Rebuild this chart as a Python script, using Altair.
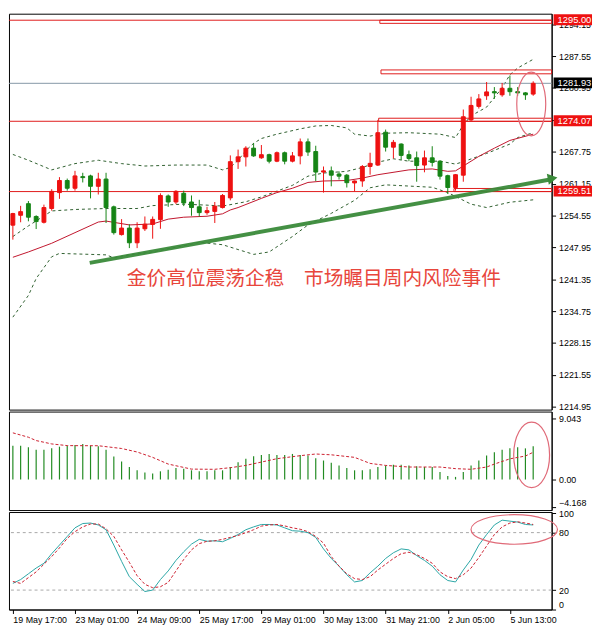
import json
import altair as alt
import pandas as pd

# ---------------- data ----------------
bar_open = [1252.55, 1254.6, 1257.0, 1254.35, 1253.15, 1256.0, 1259.3, 1261.8, 1260.2, 1262.6,
            1262.75, 1260.6, 1262.1, 1256.35, 1250.6, 1251.95, 1248.9, 1251.8, 1252.7, 1253.7,
            1258.6, 1257.35, 1259.15, 1257.35, 1256.35, 1255.15, 1255.4, 1256.2, 1258.2, 1265.7,
            1266.7, 1268.5, 1266.5, 1267.15, 1265.8, 1267.55, 1265.8, 1266.9, 1269.8, 1267.8,
            1263.55, 1263.8, 1263.15, 1262.9, 1261.3, 1261.7, 1264.7, 1265.0, 1271.8, 1268.7,
            1269.35, 1267.15, 1266.5, 1265.0, 1266.5, 1265.8, 1262.8, 1260.35, 1262.9, 1274.35,
            1277.15, 1279.35, 1280.2, 1279.55, 1280.9, 1280.2, 1279.95, 1279.7]
bar_high = [1255.1, 1256.55, 1257.55, 1254.6, 1256.8, 1260.0, 1262.5, 1262.2, 1263.8, 1263.4,
            1263.0, 1263.4, 1263.4, 1256.6, 1253.8, 1252.75, 1253.15, 1254.35, 1254.35, 1259.15,
            1258.9, 1259.8, 1259.7, 1258.7, 1257.8, 1256.35, 1257.35, 1259.0, 1267.0, 1268.2,
            1268.9, 1269.55, 1269.15, 1267.35, 1267.8, 1267.8, 1267.7, 1270.5, 1270.5, 1269.0,
            1264.7, 1264.7, 1263.7, 1263.15, 1261.8, 1265.0, 1267.55, 1274.35, 1272.35, 1270.2,
            1269.5, 1268.0, 1267.8, 1268.0, 1268.9, 1266.0, 1263.0, 1263.15, 1276.5, 1279.15,
            1279.7, 1282.2, 1281.15, 1282.0, 1283.55, 1281.15, 1280.1, 1282.35]
bar_low = [1249.55, 1253.15, 1253.35, 1251.75, 1252.9, 1255.55, 1258.0, 1259.7, 1259.7, 1261.4,
           1258.1, 1258.9, 1253.0, 1250.6, 1250.4, 1247.8, 1247.8, 1251.35, 1249.75, 1251.8,
           1256.35, 1256.9, 1256.5, 1254.5, 1254.35, 1254.7, 1253.0, 1256.0, 1257.7, 1264.2,
           1264.7, 1266.7, 1266.3, 1265.35, 1265.6, 1265.15, 1265.55, 1265.15, 1266.9, 1261.7,
           1259.3, 1260.6, 1262.0, 1260.35, 1259.55, 1260.5, 1263.0, 1264.8, 1267.8, 1266.35,
           1266.0, 1265.8, 1261.55, 1263.5, 1264.7, 1262.0, 1259.0, 1259.7, 1261.55, 1274.1,
           1276.7, 1278.5, 1278.7, 1279.15, 1279.35, 1279.35, 1278.5, 1279.35]
bar_close = [1254.95, 1255.35, 1254.2, 1253.3, 1256.2, 1259.55, 1261.8, 1260.2, 1262.75, 1262.4,
             1260.6, 1262.1, 1256.2, 1251.0, 1251.95, 1248.9, 1251.95, 1252.75, 1253.75, 1258.7,
             1257.35, 1259.55, 1257.15, 1256.2, 1255.15, 1255.55, 1256.5, 1258.7, 1265.7, 1266.7,
             1268.5, 1266.9, 1267.15, 1265.8, 1267.55, 1265.8, 1266.9, 1269.8, 1267.7, 1263.55,
             1263.8, 1262.9, 1262.7, 1261.35, 1261.7, 1264.7, 1265.35, 1271.7, 1268.7, 1269.7,
             1267.0, 1266.35, 1264.9, 1266.5, 1265.55, 1262.7, 1260.35, 1263.0, 1275.0, 1277.35,
             1278.7, 1280.15, 1279.95, 1280.9, 1280.2, 1279.95, 1279.55, 1281.93]

x_tick_bars = [0, 8, 16, 24, 32, 40, 48, 56, 64]
x_tick_labels = ["19 May 17:00", "23 May 01:00", "24 May 09:00", "25 May 17:00", "29 May 01:00",
                 "30 May 13:00", "31 May 21:00", "2 Jun 05:00", "5 Jun 13:00"]
price_ticks = [1294.15, 1287.55, 1280.95, 1274.35, 1267.75, 1261.15, 1254.55, 1247.95,
               1241.35, 1234.75, 1228.15, 1221.55, 1214.95]

bb_up_idx = [0, 2, 5, 8, 11, 14, 17, 21, 25, 27, 28, 29, 30, 31, 32, 34, 37, 39, 41, 43, 44, 46,
             48, 51, 55, 57, 58, 59, 61, 63, 64, 65, 67]
bb_up_val = [1267.2, 1266.0, 1264.0, 1265.3, 1266.0, 1265.3, 1264.8, 1265.0, 1265.0, 1264.0, 1264.5,
             1266.0, 1268.0, 1269.5, 1270.5, 1271.4, 1272.5, 1273.1, 1273.2, 1272.7, 1271.4, 1271.0,
             1271.6, 1271.7, 1271.4, 1270.7, 1273.3, 1275.2, 1277.0, 1281.0, 1283.7, 1285.1, 1286.9]
bb_mid_idx = [0, 2, 5, 8, 12, 16, 18, 22, 25, 27, 29, 30, 32, 34, 36, 38, 40, 43, 45, 47, 49, 51,
              55, 57, 58, 61, 64, 65, 67]
bb_mid_val = [1250.2, 1252.4, 1255.5, 1255.8, 1256.0, 1256.0, 1256.6, 1256.9, 1256.7, 1256.5, 1257.1,
              1257.4, 1258.4, 1259.6, 1260.8, 1262.7, 1263.35, 1263.7, 1264.5, 1265.6, 1266.3, 1265.8,
              1265.8, 1265.2, 1265.7, 1267.4, 1269.35, 1270.7, 1271.7]
bb_low_idx = [0, 2, 3, 5, 6, 12, 13, 15, 18, 22, 24, 27, 29, 31, 33, 36, 38, 41, 44, 46, 48, 54,
              56, 59, 61, 64, 67]
bb_low_val = [1233.5, 1238.0, 1241.5, 1246.0, 1246.7, 1246.4, 1245.8, 1246.4, 1247.0, 1248.3, 1249.0,
              1248.5, 1247.5, 1246.5, 1247.0, 1250.2, 1252.6, 1255.0, 1257.7, 1260.3, 1260.9, 1260.4,
              1259.3, 1256.9, 1256.2, 1257.3, 1257.8]
ma_idx = [0, 2, 4, 5, 8, 11, 12, 15, 18, 20, 22, 25, 27, 28, 29, 32, 34, 36, 38, 40, 43, 45, 47,
          51, 54, 56, 57, 58, 60, 62, 64, 67]
ma_val = [1245.9, 1247.0, 1248.2, 1248.8, 1251.0, 1253.2, 1253.4, 1252.6, 1252.8, 1253.8, 1254.2,
          1254.4, 1254.9, 1255.7, 1256.2, 1258.1, 1259.3, 1260.2, 1261.4, 1261.7, 1261.8, 1262.3,
          1263.0, 1264.0, 1264.2, 1263.7, 1263.8, 1264.8, 1266.8, 1268.5, 1270.1, 1271.4]

level_red = [1295.00, 1274.07, 1259.51]
level_last = [1281.93]
zone_start = [47.25, 47.4, 47.1, 56.8]
zone_end = [69.375, 69.375, 69.375, 69.375]
zone_top = [1295.0, 1284.7, 1274.7, 1260.15]
zone_bottom = [1294.35, 1283.9, 1274.05, 1259.51]
trend_x = [9.9, 69.0]
trend_y = [1244.75, 1261.95]
arrow_head_x = [69.5]
arrow_head_y = [1262.25]

box_price = [1295.00, 1281.93, 1274.07, 1259.51]
box_text = ["1295.00", "1281.93", "1274.07", "1259.51"]
box_kind = ["red", "last", "red", "red"]

title_text = ["金价高位震荡企稳\u3000市场瞩目周内风险事件"]
title_x = [38.75]
title_y = [1241.35]

macd_hist = [5.03, 5.03, 4.79, 4.45, 4.45, 4.64, 4.89, 5.03, 5.13, 5.28,
             5.03, 4.94, 4.45, 3.42, 2.69, 1.86, 1.37, 1.03, 0.88, 1.22,
             1.47, 1.71, 1.61, 1.37, 1.22, 1.22, 1.37, 1.37, 1.86, 2.59,
             3.08, 3.47, 3.67, 3.81, 3.67, 3.67, 3.81, 3.67, 3.57, 3.18,
             2.83, 2.49, 2.10, 1.71, 1.37, 1.37, 1.52, 1.86, 2.10, 2.20,
             2.20, 2.10, 1.96, 1.86, 1.86, 1.12, 0.54, 0.39, 1.12, 2.10,
             2.83, 3.57, 4.06, 4.45, 4.64, 4.79, 4.64, 4.94]
macd_sig_idx = [0, 2, 3, 5, 7, 11, 14, 16, 18, 20, 22, 23, 26, 28, 30, 32, 34, 37, 39, 41, 44, 45,
                46, 48, 51, 55, 57, 59, 61, 62, 64, 66, 67]
macd_sig_val = [6.95, 6.3, 5.8, 5.3, 5.05, 5.03, 4.62, 4.1, 3.3, 2.3, 1.8, 1.55, 1.52, 1.76, 2.1,
                2.6, 3.1, 3.55, 3.8, 3.68, 3.3, 2.85, 2.4, 2.1, 1.86, 1.86, 1.62, 1.52, 1.86, 2.3,
                3.08, 3.5, 4.06]
macd_ticks = [9.043, 0.0, -4.168]

stoch_k = [27, 31, 37, 43, 48, 58, 67, 76, 85, 89.5, 90, 88, 83, 67, 50, 34, 26, 18.5, 20, 31,
           40, 51, 60, 68, 73, 71, 71.5, 70.5, 74, 78, 83, 86, 88.5, 88.5, 88, 85, 82, 81.5, 80, 75,
           63, 53, 45, 36, 28.5, 30, 38, 45, 53, 59, 63, 62, 56, 51, 45, 36, 30, 28.5, 41, 52,
           67, 78, 88, 93, 92, 91, 88.5, 88]
stoch_d = [29, 27, 33, 39, 47, 55, 64, 74, 81, 86, 89, 89, 84, 76, 62, 49, 35, 26, 22.5, 23.5,
           28, 40, 52, 62, 68.5, 71, 71.4, 73, 75, 77, 80, 83, 86.8, 88, 88.5, 87, 85, 83.5, 81, 76,
           69, 55, 45, 37, 32, 31, 34, 41, 47, 53, 58, 59.5, 57, 53, 48, 39, 34, 32, 36, 43,
           54, 66, 78, 86, 90, 91.3, 90, 88.5]
stoch_levels = [80, 20]
stoch_ticks = [100, 80, 20, 0]

ell_main_x, ell_main_y = [66.75], [1277.65]
ell_macd_x, ell_macd_y = [66.8], [3.67]
ell_stoch_x, ell_stoch_y = [64.56], [83.3]

# ---------------- styles ----------------
W = 551
RED_C, GREEN_C = "#ee1111", "#158415"
BAND, MA_RED = "#2f5f2f", "#c0142c"
LEVEL, LAST = "#e01a1a", "#8597a6"
TREND = "#3a8a3a"
ELL = "#e06a78"
FONT = "Liberation Sans"


def ellipse_path(a, b):
    k = 0.5523
    return (f"M0,{-b}C{k*a:.4f},{-b} {a},{-k*b:.4f} {a},0"
            f"C{a},{k*b:.4f} {k*a:.4f},{b} 0,{b}"
            f"C{-k*a:.4f},{b} {-a},{k*b:.4f} {-a},0"
            f"C{-a},{-k*b:.4f} {-k*a:.4f},{-b} 0,{-b}Z")


xs = alt.Scale(domain=[-0.5, 69.375], nice=False, zero=False)
ys_main = alt.Scale(domain=[1214.35, 1296.35], nice=False, zero=False)
ys_macd = alt.Scale(domain=[-4.55, 10.12], nice=False, zero=False)
ys_sto = alt.Scale(domain=[-0.3, 101.5], nice=False, zero=False)

main_axis = alt.Axis(orient="right", values=price_ticks, format=".2f", tickSize=4, labelPadding=3,
                     grid=False, title=None, domainColor="black", tickColor="black")
macd_axis = alt.Axis(orient="right", values=macd_ticks, tickSize=4, labelPadding=3, grid=False,
                     title=None, labelExpr="datum.value == 0 ? '0.00' : format(datum.value, '.3f')",
                     labelBaseline={"condition": {"test": "datum.value < 0", "value": "bottom"},
                                    "value": "middle"},
                     domainColor="black", tickColor="black")
sto_axis = alt.Axis(orient="right", values=stoch_ticks, tickSize=4, labelPadding=3, grid=False,
                    title=None, labelFlush=True, domainColor="black", tickColor="black")
x_axis = alt.Axis(values=x_tick_bars, labelExpr=f"{json.dumps(x_tick_labels)}[round(datum.value/8)]",
                  labelAlign="left", tickSize=4, labelPadding=2, grid=False, title=None,
                  domainColor="black", tickColor="black", labelOverlap=False)


def X(f, axis=None):
    return alt.X(f, type="quantitative", scale=xs, axis=axis)


def YM(f):
    return alt.Y(f, type="quantitative", scale=ys_main, axis=main_axis)


# ---------------- main panel ----------------
candles = pd.DataFrame({"i": list(range(len(bar_open))), "o": bar_open, "h": bar_high,
                        "l": bar_low, "c": bar_close})
candles["dir"] = ["up" if c >= o else "down" for o, c in zip(bar_open, bar_close)]
dir_scale = alt.Scale(domain=["up", "down"], range=[RED_C, GREEN_C])

bands = pd.concat([
    pd.DataFrame({"i": bb_up_idx, "v": bb_up_val, "s": "up"}),
    pd.DataFrame({"i": bb_mid_idx, "v": bb_mid_val, "s": "mid"}),
    pd.DataFrame({"i": bb_low_idx, "v": bb_low_val, "s": "low"}),
])
ma = pd.DataFrame({"i": ma_idx, "v": ma_val})
zones = pd.DataFrame({"x0": zone_start, "x1": zone_end, "t": zone_top, "b": zone_bottom})
trend = pd.DataFrame({"x0": [trend_x[0]], "x1": [trend_x[1]], "y0": [trend_y[0]], "y1": [trend_y[1]]})
head = pd.DataFrame({"x": arrow_head_x, "y": arrow_head_y})
boxes = pd.DataFrame({"p": box_price, "t": box_text, "k": box_kind})
title_df = pd.DataFrame({"x": title_x, "y": title_y, "t": title_text})

band_layer = alt.Chart(bands).mark_line(color=BAND, strokeWidth=1, strokeDash=[3, 3]).encode(
    x=X("i"), y=YM("v"), detail="s:N")
ma_layer = alt.Chart(ma).mark_line(color=MA_RED, strokeWidth=1).encode(x=X("i"), y=YM("v"))
lvl_layer = alt.Chart(pd.DataFrame({"p": level_red})).mark_rule(color=LEVEL, strokeWidth=1).encode(y=YM("p"))
last_layer = alt.Chart(pd.DataFrame({"p": level_last})).mark_rule(color=LAST, strokeWidth=1).encode(y=YM("p"))
zone_layer = alt.Chart(zones).mark_rect(fillOpacity=0, stroke=LEVEL, strokeWidth=1).encode(
    x=X("x0"), x2="x1", y=YM("t"), y2="b")
wick_layer = alt.Chart(candles).mark_rule(strokeWidth=1).encode(
    x=X("i"), y=YM("l"), y2="h", color=alt.Color("dir:N", scale=dir_scale, legend=None))
body_layer = alt.Chart(candles).transform_calculate(
    xa="datum.i - 0.25", xb="datum.i + 0.25").mark_rect(strokeWidth=1).encode(
    x=X("xa"), x2="xb", y=YM("o"), y2="c",
    color=alt.Color("dir:N", scale=dir_scale, legend=None),
    stroke=alt.Stroke("dir:N", scale=dir_scale, legend=None))
trend_layer = alt.Chart(trend).mark_rule(color=TREND, strokeWidth=4, opacity=0.95).encode(
    x=X("x0"), x2="x1", y=YM("y0"), y2="y1")
head_layer = alt.Chart(head).mark_point(shape="triangle-right", filled=True, size=130, angle=349.75,
                                        color=TREND, opacity=1).encode(x=X("x"), y=YM("y"))
ell_main = alt.Chart(pd.DataFrame({"x": ell_main_x, "y": ell_main_y})).mark_point(
    shape=ellipse_path(0.454, 1), size=4199, filled=False, stroke=ELL, strokeWidth=1.2, opacity=1
).encode(x=X("x"), y=YM("y"))
title_layer = alt.Chart(title_df).mark_text(font="Noto Sans CJK SC", fontSize=20, color="#e8463c",
                                            align="center", baseline="middle").encode(
    x=X("x"), y=YM("y"), text="t:N")
box_red = alt.Chart(boxes).transform_filter("datum.k == 'red'").mark_rect(
    yOffset=-6, y2Offset=5, color="#ee1111").encode(
    x=alt.value(553), x2=alt.value(592), y=YM("p"), y2="p")
box_last = alt.Chart(boxes).transform_filter("datum.k == 'last'").mark_rect(
    yOffset=-6, y2Offset=5, color="#000000").encode(
    x=alt.value(553), x2=alt.value(592), y=YM("p"), y2="p")
box_text_layer = alt.Chart(boxes).mark_text(align="left", baseline="middle", font=FONT, fontSize=9.5,
                                            color="white", dy=-0.5).encode(
    x=alt.value(557), y=YM("p"), text="t:N")

main = alt.layer(band_layer, ma_layer, last_layer, lvl_layer, zone_layer, wick_layer, body_layer,
                 trend_layer, head_layer, ell_main, title_layer, box_red, box_last, box_text_layer
                 ).properties(width=W, height=402)

# ---------------- MACD panel ----------------
macd_df = pd.DataFrame({"i": list(range(len(macd_hist))), "v": macd_hist, "z": 0.0})
sig_df = pd.DataFrame({"i": macd_sig_idx, "v": macd_sig_val})


def YD(f):
    return alt.Y(f, type="quantitative", scale=ys_macd, axis=macd_axis)


hist_layer = alt.Chart(macd_df).mark_rule(color="#228b22", strokeWidth=1.2).encode(
    x=X("i"), y=YD("z"), y2="v")
sig_layer = alt.Chart(sig_df).mark_line(color="#cc1f2f", strokeWidth=1, strokeDash=[3, 2]).encode(
    x=X("i"), y=YD("v"))
ell_macd = alt.Chart(pd.DataFrame({"x": ell_macd_x, "y": ell_macd_y})).mark_point(
    shape=ellipse_path(0.547, 1), size=4436, filled=False, stroke=ELL, strokeWidth=1.2, opacity=1
).encode(x=X("x"), y=YD("y"))
macd = alt.layer(hist_layer, sig_layer, ell_macd).properties(width=W, height=100)

# ---------------- Stochastic panel ----------------
sto_df = pd.concat([
    pd.DataFrame({"i": list(range(len(stoch_k))), "v": stoch_k, "s": "K"}),
    pd.DataFrame({"i": list(range(len(stoch_d))), "v": stoch_d, "s": "D"}),
])


def YS(f):
    return alt.Y(f, type="quantitative", scale=ys_sto, axis=sto_axis)


lev_layer = alt.Chart(pd.DataFrame({"v": stoch_levels})).mark_rule(
    color="#a8a8a8", strokeWidth=1, strokeDash=[3, 3]).encode(y=YS("v"))
k_layer = alt.Chart(sto_df).transform_filter("datum.s == 'K'").mark_line(
    color="#2aa6a6", strokeWidth=1).encode(x=X("i", x_axis), y=YS("v"))
d_layer = alt.Chart(sto_df).transform_filter("datum.s == 'D'").mark_line(
    color="#cc1f2f", strokeWidth=1, strokeDash=[3, 2]).encode(x=X("i", x_axis), y=YS("v"))
ell_sto = alt.Chart(pd.DataFrame({"x": ell_stoch_x, "y": ell_stoch_y})).mark_point(
    shape=ellipse_path(1, 0.342), size=7709, filled=False, stroke=ELL, strokeWidth=1.2, opacity=1
).encode(x=X("x", x_axis), y=YS("y"))
stoch = alt.layer(lev_layer, k_layer, d_layer, ell_sto).properties(width=W, height=99)

chart = alt.vconcat(main, macd, stoch, spacing=2, bounds="flush").resolve_scale(
    y="independent", color="independent", stroke="independent"
).properties(padding=0, background="white").configure_view(
    stroke="black", strokeWidth=1
).configure_axis(
    labelFont=FONT, labelFontSize=9, labelColor="black"
)

chart.save("out.html", embed_options={"renderer": "svg", "actions": False})
